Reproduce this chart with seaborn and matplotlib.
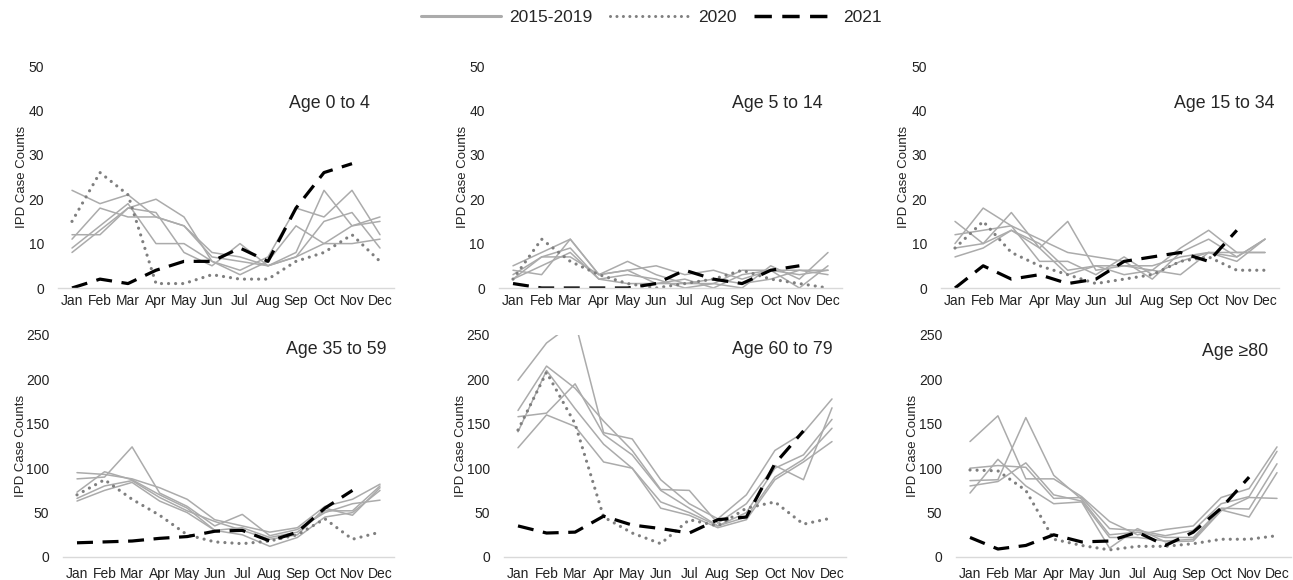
import numpy as np
import pandas as pd
import seaborn as sns
from matplotlib import pyplot as plt
from matplotlib.lines import Line2D

# --- data ---
months = ['Jan', 'Feb', 'Mar', 'Apr', 'May', 'Jun', 'Jul', 'Aug', 'Sep', 'Oct', 'Nov', 'Dec']
base_years = ['2015', '2016', '2017', '2018', '2019']
titles = ['Age 0 to 4', 'Age 5 to 14', 'Age 15 to 34', 'Age 35 to 59', 'Age 60 to 79', 'Age \u226580']

base_0_4 = [
    [22, 19, 21, 16, 14, 7, 6, 5, 8, 22, 14, 16],
    [12, 12, 18, 20, 16, 6, 3, 6, 14, 10, 10, 11],
    [11, 18, 16, 16, 14, 8, 7, 5, 7, 15, 17, 9],
    [9, 14, 19, 10, 10, 6, 4, 7, 18, 16, 22, 12],
    [8, 13, 18, 17, 8, 5, 10, 5, 7, 10, 14, 15],
]
y2020_0_4 = [15, 26, 21, 1, 1, 3, 2, 2, 6, 8, 12, 6]
y2021_0_4 = [0, 2, 1, 4, 6, 6, 9, 6, 18, 26, 28, np.nan]

base_5_14 = [
    [5, 8, 11, 3, 6, 3, 1, 1, 0, 5, 2, 8],
    [4, 3, 11, 3, 4, 5, 3, 4, 2, 4, 3, 4],
    [3, 7, 9, 2, 3, 2, 0, 1, 4, 4, 0, 5],
    [2, 5, 8, 2, 1, 1, 1, 2, 1, 2, 4, 3],
    [2, 7, 7, 3, 4, 1, 2, 0, 3, 4, 4, 4],
]
y2020_5_14 = [2, 11, 6, 3, 1, 0, 1, 2, 4, 2, 1, 0]
y2021_5_14 = [1, 0, 0, 0, 0, 1, 4, 2, 1, 4, 5, np.nan]

base_15_34 = [
    [15, 10, 17, 9, 15, 4, 5, 4, 9, 13, 8, 8],
    [12, 13, 14, 11, 8, 7, 6, 2, 8, 11, 7, 11],
    [10, 18, 14, 6, 6, 3, 7, 3, 6, 8, 6, 11],
    [9, 10, 13, 10, 4, 5, 3, 4, 3, 8, 8, 8],
    [7, 9, 13, 9, 3, 5, 5, 5, 7, 8, 7, 11],
]
y2020_15_34 = [9, 15, 8, 5, 3, 1, 2, 3, 6, 7, 4, 4]
y2021_15_34 = [0, 5, 2, 3, 1, 2, 6, 7, 8, 6, 13, np.nan]

base_35_59 = [
    [95, 93, 88, 78, 65, 42, 35, 28, 33, 57, 65, 82],
    [88, 90, 124, 72, 57, 35, 48, 24, 31, 50, 60, 64],
    [73, 96, 87, 70, 55, 30, 33, 22, 28, 52, 52, 80],
    [66, 80, 86, 67, 52, 40, 30, 20, 25, 55, 47, 78],
    [63, 75, 84, 63, 50, 30, 25, 12, 22, 45, 50, 75],
]
y2020_35_59 = [70, 87, 65, 47, 25, 17, 15, 18, 25, 43, 20, 28]
y2021_35_59 = [16, 17, 18, 21, 23, 29, 30, 18, 28, 55, 75, np.nan]

base_60_79 = [
    [199, 241, 265, 140, 133, 87, 60, 43, 70, 120, 140, 178],
    [165, 215, 190, 153, 120, 76, 75, 38, 60, 103, 87, 168],
    [158, 162, 195, 138, 115, 75, 55, 35, 50, 100, 115, 155],
    [141, 210, 167, 127, 100, 62, 50, 35, 45, 90, 110, 145],
    [123, 160, 147, 107, 100, 55, 47, 33, 42, 87, 107, 130],
]
y2020_60_79 = [143, 208, 150, 45, 27, 15, 42, 35, 55, 62, 37, 44]
y2021_60_79 = [35, 27, 28, 46, 36, 32, 27, 42, 45, 105, 142, np.nan]

base_80 = [
    [130, 159, 88, 88, 68, 40, 25, 31, 35, 67, 77, 124],
    [100, 103, 101, 66, 67, 32, 30, 24, 30, 60, 68, 119],
    [86, 87, 157, 92, 65, 25, 28, 22, 22, 55, 54, 105],
    [80, 85, 106, 70, 63, 22, 22, 18, 20, 53, 45, 95],
    [72, 110, 80, 60, 62, 10, 32, 17, 18, 52, 67, 66],
]
y2020_80 = [98, 97, 75, 20, 13, 8, 12, 12, 15, 20, 20, 24]
y2021_80 = [22, 9, 13, 25, 17, 18, 28, 13, 28, 55, 90, np.nan]

panels = [
    (base_0_4, y2020_0_4, y2021_0_4),
    (base_5_14, y2020_5_14, y2021_5_14),
    (base_15_34, y2020_15_34, y2021_15_34),
    (base_35_59, y2020_35_59, y2021_35_59),
    (base_60_79, y2020_60_79, y2021_60_79),
    (base_80, y2020_80, y2021_80),
]

# --- layout (pixels in a 1293x580 image) ---
W, H = 1293, 580
jan_dec_px = [(72, 380), (513, 828), (955, 1265), (77, 380), (518, 832), (970, 1277)]
row_px = [(288, 66), (288, 66), (288, 66), (557, 335), (557, 335), (557, 335)]
ylims = [50, 50, 50, 250, 250, 250]
title_px = [(370, 103), (823, 103), (1275, 103), (387, 350), (833, 350), (1268, 352)]
ylabel_off = [30, 30, 31, 36, 37, 37]

GRAY = '#ababab'
DOT = '#7f7f7f'

sns.set_style('white')
plt.rcParams['font.family'] = ['Liberation Sans', 'DejaVu Sans']

fig = plt.figure(figsize=(W / 100, H / 100), dpi=100)

for i, (base, y20, y21) in enumerate(panels):
    jan, dec = jan_dec_px[i]
    unit = (dec - jan) / 11
    left = jan - 0.5 * unit
    width = 12 * unit
    y0, y1 = row_px[i]
    ax = fig.add_axes([left / W, 1 - y0 / H, width / W, (y0 - y1) / H])

    df = pd.DataFrame([(m, v, yr) for yr, vals in zip(base_years, base)
                       for m, v in enumerate(vals)], columns=['month', 'count', 'year'])
    sns.lineplot(data=df, x='month', y='count', units='year', estimator=None,
                 color=GRAY, lw=1.1, ax=ax)
    d20 = pd.DataFrame({'month': range(12), 'count': y20})
    sns.lineplot(data=d20, x='month', y='count', color=DOT, lw=2.3,
                 linestyle=(0, (0.01, 2.2)), dash_capstyle='round', ax=ax)
    d21 = pd.DataFrame({'month': range(12), 'count': y21}).dropna()
    sns.lineplot(data=d21, x='month', y='count', color='black', lw=2.3,
                 linestyle=(0, (5, 3)), ax=ax)

    ax.set_xlim(-0.5, 11.5)
    ax.set_ylim(0, ylims[i])
    ax.set_yticks(np.linspace(0, ylims[i], 6))
    ax.set_xticks(range(12))
    ax.set_xticklabels(months)
    ax.set_xlabel('')
    ax.set_ylabel('IPD Case Counts', fontsize=9.5, color='#222222')
    ax.yaxis.set_label_coords(-ylabel_off[i] / width, 0.5)
    ax.tick_params(axis='both', length=0, labelsize=10, colors='#222222')
    ax.tick_params(axis='y', pad=10)
    ax.tick_params(axis='x', pad=4 if i < 3 else 7)
    for s in ['top', 'right', 'left']:
        ax.spines[s].set_visible(False)
    ax.spines['bottom'].set_color('#d9d9d9')
    ax.spines['bottom'].set_linewidth(1)

    tx, ty = title_px[i]
    fig.text(tx / W, 1 - ty / H, titles[i], ha='right', va='center', fontsize=12.8)

handles = [
    Line2D([], [], color=GRAY, lw=2.2),
    Line2D([], [], color=DOT, lw=2.2, linestyle=(0, (0.01, 2.1)), dash_capstyle='round'),
    Line2D([], [], color='black', lw=2.5, linestyle=(0, (5, 3))),
]
fig.legend(handles, ['2015-2019', '2020', '2021'], loc='center', ncol=3,
           bbox_to_anchor=(651 / W, 1 - 17 / H), frameon=False, fontsize=12.5,
           handlelength=4.6, columnspacing=1.0, handletextpad=0.5)

fig.savefig('out.png', dpi=100)
